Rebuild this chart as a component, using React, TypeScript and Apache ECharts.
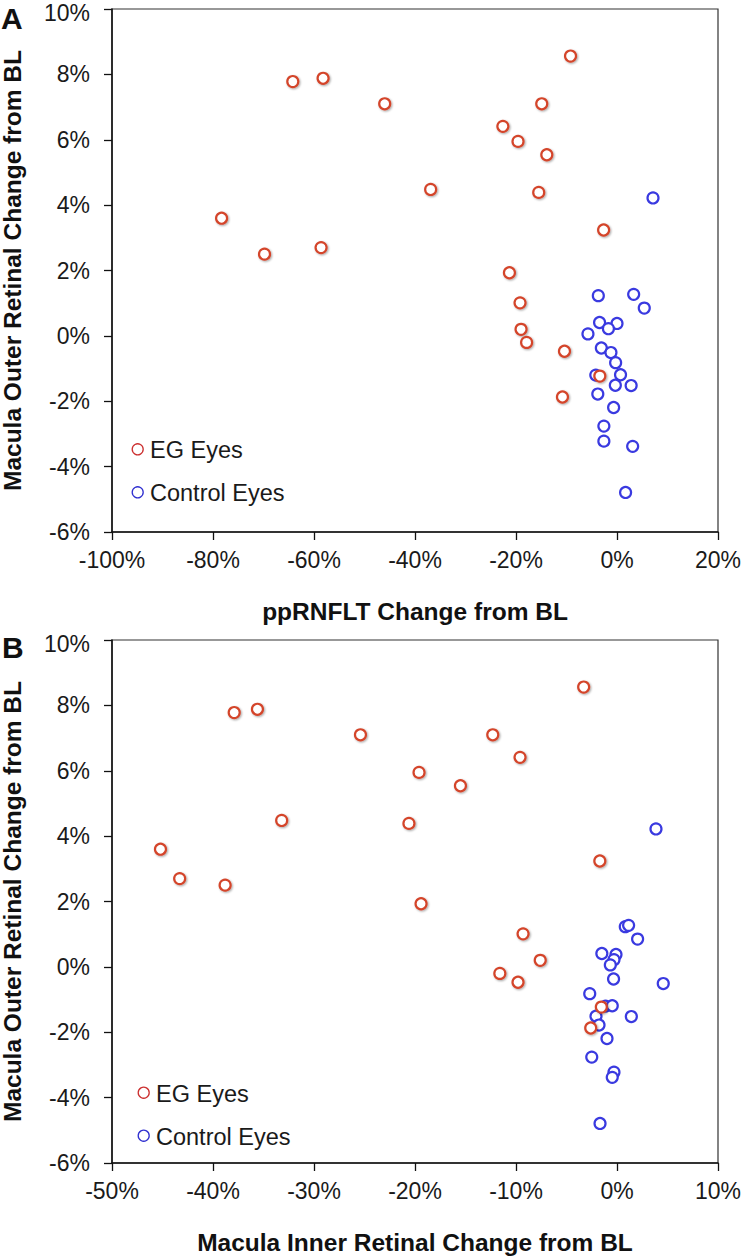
import React, { useEffect, useRef } from "react";
import * as echarts from "echarts";

// Macula outer retinal change (%) — shared y for both panels
const egOuter = [3.6, 2.5, 7.78, 7.88, 2.7, 7.1, 4.48, 6.41, 5.95, 5.54, 4.39, 8.56, 7.1, 3.24, 1.93, 1.01, 0.2, -0.2, -0.47, -1.87, -1.23];
// Panel A x: ppRNFLT change (%)
const egRnfl = [-78.3, -69.8, -64.2, -58.2, -58.6, -46.0, -36.9, -22.6, -19.6, -13.9, -15.5, -9.2, -14.9, -2.65, -21.3, -19.2, -19.0, -17.9, -10.4, -10.8, -3.4];
// Panel B x: macula inner retinal change (%)
const egInner = [-45.2, -38.8, -37.9, -35.6, -43.3, -25.4, -33.2, -9.6, -19.6, -15.5, -20.6, -3.3, -12.3, -1.7, -19.4, -9.3, -7.6, -11.6, -9.8, -2.6, -1.55];

const ctlOuter = [4.22, 1.23, 1.27, 0.85, 0.41, 0.38, 0.22, 0.06, -0.37, -0.51, -0.82, -1.2, -1.19, -1.51, -1.52, -1.78, -2.19, -2.76, -3.22, -3.38, -4.79];
const ctlRnfl = [7.13, -3.7, 3.3, 5.4, -3.45, 0.0, -1.7, -5.75, -3.1, -1.2, -0.27, -4.2, 0.7, -0.33, 2.8, -3.8, -0.67, -2.6, -2.6, 3.1, 1.7];
const ctlInner = [3.86, 0.82, 1.15, 2.04, -1.5, -0.1, -0.3, -0.66, -0.34, 4.58, -2.7, -1.13, -0.47, -2.08, 1.42, -1.78, -0.99, -2.5, -0.3, -0.47, -1.68];

const xTicksA = { min: -100, max: 20, interval: 20 };
const xTicksB = { min: -50, max: 10, interval: 10 };
const yTicks = { min: -6, max: 10, interval: 2 };

const legendNames = ["EG Eyes", "Control Eyes"];
const xTitles = ["ppRNFLT Change from BL", "Macula Inner Retinal Change from BL"];
const yTitle = "Macula Outer Retinal Change from BL";
const panelLetters = ["A", "B"];

const RED = "#d4452b";
const BLUE = "#3a3ae0";
const FONT = "Arial, 'Liberation Sans', sans-serif";

export default function App() {
  const ref = useRef<HTMLDivElement>(null);
  useEffect(() => {
    const chart = echarts.init(ref.current!, null, { renderer: "svg" });
    const zip = (xs: number[], ys: number[]) => xs.map((x, i) => [x, ys[i]]);
    const grids = [
      { left: 112, top: 9, width: 606, height: 523 },
      { left: 112, top: 640, width: 606, height: 523 },
    ];
    const xa = [xTicksA, xTicksB];
    const axisCommon = {
      axisLine: { show: true, onZero: false, lineStyle: { color: "#111", width: 1.5 } },
      axisTick: { show: true, inside: false, length: 8, lineStyle: { color: "#111", width: 1.3 } },
      splitLine: { show: false },
    };
    const xAxis = xa.map((t, i) => ({
      type: "value",
      gridIndex: i,
      ...t,
      ...axisCommon,
      axisLabel: { fontSize: 23, color: "#1a1a1a", fontFamily: FONT, margin: 16, formatter: (v: number) => `${v}%` },
      name: xTitles[i],
      nameLocation: "middle",
      nameGap: 67,
      nameTextStyle: { fontSize: 24.5, fontWeight: "bold", color: "#111", fontFamily: FONT },
    }));
    const yAxis = [0, 1].map((i) => ({
      type: "value",
      gridIndex: i,
      ...yTicks,
      ...axisCommon,
      axisLabel: {
        fontSize: 23,
        color: "#1a1a1a",
        fontFamily: FONT,
        margin: 22,
        formatter: (v: number) => (v === yTicks.max ? `{top|${v}%}` : `${v}%`),
        rich: { top: { fontSize: 23, color: "#1a1a1a", fontFamily: FONT, padding: [7, 0, 0, 0] } },
      },
      name: yTitle,
      nameLocation: "middle",
      nameRotate: 90,
      nameGap: 87,
      nameTextStyle: { fontSize: 24.5, fontWeight: "bold", color: "#111", fontFamily: FONT },
    }));
    const mk = (name: string, data: number[][], idx: number, color: string, shadow: boolean) => ({
      type: "scatter",
      name,
      xAxisIndex: idx,
      yAxisIndex: idx,
      data,
      symbol: "circle",
      symbolSize: 11,
      itemStyle: {
        color: "#ffffff",
        borderColor: color,
        borderWidth: 2.2,
        opacity: 1,
        ...(shadow ? { shadowBlur: 2, shadowColor: "rgba(0,0,0,0.35)", shadowOffsetX: 1, shadowOffsetY: 1 } : {}),
      },
    });
    const legendItems = (cx: number, cy: number, tx: number) => [
      { type: "circle", shape: { cx, cy, r: 5.5 }, style: { fill: "#fff", stroke: "#cc3030", lineWidth: 1.3 } },
      { type: "text", x: tx, y: cy + 1, style: { text: legendNames[0], font: `23.5px ${FONT}`, fill: "#1a1a1a", textVerticalAlign: "middle" } },
      { type: "circle", shape: { cx, cy: cy + 43, r: 5.5 }, style: { fill: "#fff", stroke: "#3030d0", lineWidth: 1.3 } },
      { type: "text", x: tx, y: cy + 44, style: { text: legendNames[1], font: `23.5px ${FONT}`, fill: "#1a1a1a", textVerticalAlign: "middle" } },
    ];
    chart.setOption({
      animation: false,
      backgroundColor: "#ffffff",
      grid: grids.map((g) => ({
        ...g,
        containLabel: false,
        outerBoundsMode: "none",
        show: true,
        borderColor: "#333",
        borderWidth: 1.2,
        backgroundColor: "transparent",
      })),
      xAxis,
      yAxis,
      series: [
        mk(legendNames[1], zip(ctlRnfl, ctlOuter), 0, BLUE, false),
        mk(legendNames[0], zip(egRnfl, egOuter), 0, RED, true),
        mk(legendNames[1], zip(ctlInner, ctlOuter), 1, BLUE, false),
        mk(legendNames[0], zip(egInner, egOuter), 1, RED, true),
      ],
      graphic: [
        { type: "text", x: 1, y: 18, style: { text: panelLetters[0], font: `bold 30px ${FONT}`, fill: "#111", textVerticalAlign: "middle" } },
        { type: "text", x: 2, y: 647, style: { text: panelLetters[1], font: `bold 30px ${FONT}`, fill: "#111", textVerticalAlign: "middle" } },
        ...legendItems(137.7, 449.3, 150),
        ...legendItems(143.7, 1092.7, 156),
      ],
    });
    return () => chart.dispose();
  }, []);
  return <div ref={ref} style={{ position: "absolute", left: 0, top: 0, width: 741, height: 1259 }} />;
}
